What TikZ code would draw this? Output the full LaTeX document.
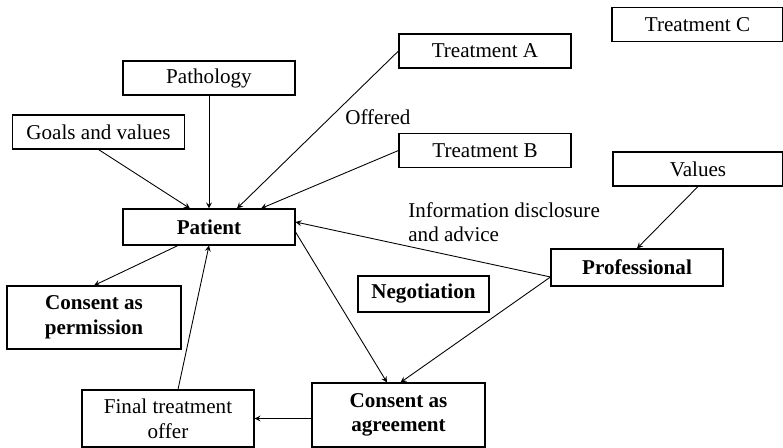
\documentclass[tikz,border=0pt]{standalone}
\usepackage{fontspec}
\setmainfont{Liberation Serif}
\usepackage{tikz}
\usetikzlibrary{positioning}
\usetikzlibrary{arrows,shapes}
\usetikzlibrary{calc}

\begin{document}
\begin{tikzpicture}
    [font=\fontsize{12}{14}\selectfont,
     box/.style={rectangle,draw,line width=0.6pt,inner sep=1pt,minimum width=3.44cm,minimum height=0.68cm,align=center},
     boldbox/.style={box,font=\fontsize{12}{14}\selectfont\bfseries},
     link/.style={-stealth,line width=0.5pt}]
    \useasboundingbox (0,0) rectangle (15.66,8.96);
    \node [box] (Pathology) at (4.18,7.40) {Pathology};
    \node [box] (Goals) at (1.97,6.32) {Goals and values};
    \node [boldbox,minimum height=0.72cm] (Patient) at (4.18,4.42) {Patient};
    \node [box] (TreatA) at (9.70,7.94) {Treatment A};
    \node [box] (TreatB) at (9.70,5.95) {Treatment B};
    \node [box,minimum width=3.42cm] (TreatC) at (13.95,8.47) {Treatment C};
    \node [box,minimum width=3.40cm] (Values) at (13.96,5.58) {Values};
    \node [boldbox,minimum height=0.74cm] (Professional) at (12.74,3.61) {Professional};
    \node [boldbox,minimum width=2.62cm,minimum height=0.72cm] (Negotiation) at (8.47,3.08) {Negotiation};
    \node [boldbox,minimum width=3.48cm,minimum height=1.26cm] (Permission) at (1.88,2.61) {Consent as\\permission};
    \node [box,minimum height=1.14cm] (Final) at (3.36,0.59) {Final treatment\\offer};
    \node [boldbox,minimum width=3.46cm,minimum height=1.28cm] (Agreement) at (7.97,0.66) {Consent as\\agreement};
    \node [anchor=west,inner sep=0pt] (Offered) at (6.90,6.62) {Offered};
    \node [anchor=west,align=left,inner sep=0pt] (Disclosure) at (8.16,4.52) {Information disclosure\\and advice};
    \draw[link] (Goals.south) -- ([xshift=-0.38cm]Patient.north);
    \draw[link] (Pathology.south) -- (Patient.north);
    \draw[link] (TreatA.west) -- ([xshift=0.56cm]Patient.north);
    \draw[link] (TreatB.west) -- ([xshift=1.04cm]Patient.north);
    \draw[link] (Values.south) -- (Professional.north);
    \draw[link] ([yshift=-0.19cm]Professional.west) -- ([yshift=0.1cm]Patient.east);
    \draw[link] ([yshift=-0.19cm]Professional.west) -- ([xshift=0.04cm]Agreement.north);
    \draw[link] ([yshift=-0.1cm]Patient.east) -- ([xshift=-0.23cm]Agreement.north);
    \draw[link] ([xshift=-0.62cm]Patient.south) -- (Permission.north);
    \draw[link] ([xshift=0.2cm]Final.north) -- (Patient.south);
    \draw[link] (Final.east -| Agreement.west) -- (Final.east);
\end{tikzpicture}
\end{document}
